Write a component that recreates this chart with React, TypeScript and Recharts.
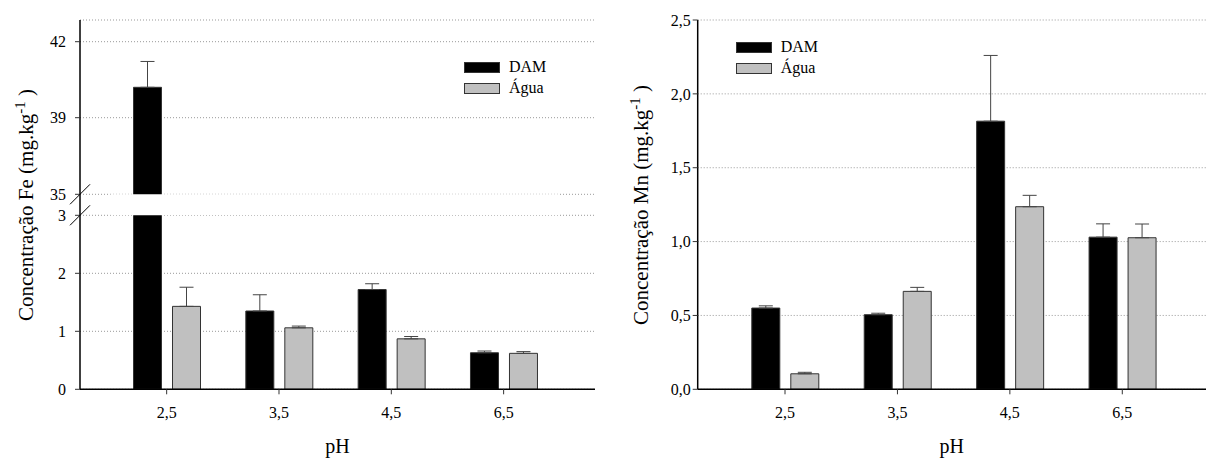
import React from "react"
import { BarChart, Bar, XAxis, YAxis, CartesianGrid, ErrorBar, Legend, ReferenceArea, Label } from "recharts"

const phLabels = ["2,5", "3,5", "4,5", "6,5"]

const feDam = [40.2, 1.35, 1.72, 0.63]
const feDamErr = [1.02, 0.28, 0.1, 0.03]
const feAgua = [1.43, 1.06, 0.87, 0.62]
const feAguaErr = [0.33, 0.03, 0.04, 0.03]

const mnDam = [0.55, 0.505, 1.815, 1.03]
const mnDamErr = [0.015, 0.01, 0.445, 0.09]
const mnAgua = [0.105, 0.663, 1.236, 1.026]
const mnAguaErr = [0.01, 0.027, 0.077, 0.093]

const feTicks = [0, 1, 2, 3, 35, 39, 42]
const feBreak = [3, 35]
const mnTicks = [0, 0.5, 1, 1.5, 2, 2.5]

// broken Fe axis: value -> relative length along the axis
const feAxisKnots: [number, number][] = [
  [0, 0],
  [3, 174],
  [35, 195],
  [39, 271.6],
  [42, 347.6],
  [42.86, 369.3],
]

function brokenScale(knots: [number, number][], dom: number[] = [0, 1], rng: number[] = [0, 1]): any {
  let d = dom.slice()
  let r = rng.slice()
  const toT = (v: number) => {
    for (let i = 1; i < knots.length; i++) {
      if (v <= knots[i][0] || i === knots.length - 1) {
        const [v0, t0] = knots[i - 1]
        const [v1, t1] = knots[i]
        return t0 + ((v - v0) * (t1 - t0)) / (v1 - v0)
      }
    }
    return 0
  }
  const s: any = (v: number) => {
    const t0 = toT(Number(d[0]))
    const t1 = toT(Number(d[1]))
    return r[0] + ((toT(Number(v)) - t0) / (t1 - t0)) * (r[1] - r[0])
  }
  s.domain = (x?: number[]) => {
    if (x === undefined) return d.slice()
    d = x.map(Number)
    return s
  }
  s.range = (x?: number[]) => {
    if (x === undefined) return r.slice()
    r = x.map(Number)
    return s
  }
  s.copy = () => brokenScale(knots, d, r)
  s.ticks = () => feTicks
  s.invert = (y: number) => {
    const t0 = toT(d[0])
    const t1 = toT(d[1])
    const t = t0 + ((y - r[0]) / (r[1] - r[0])) * (t1 - t0)
    for (let i = 1; i < knots.length; i++) {
      if (t <= knots[i][1] || i === knots.length - 1) {
        const [v0, k0] = knots[i - 1]
        const [v1, k1] = knots[i]
        return v0 + ((t - k0) * (v1 - v0)) / (k1 - k0)
      }
    }
    return 0
  }
  return s
}

const feScale = brokenScale(feAxisKnots)

const feData = phLabels.map((ph, i) => ({
  ph,
  dam: feDam[i],
  damErr: [0, feDamErr[i]],
  agua: feAgua[i],
  aguaErr: [0, feAguaErr[i]],
}))

const mnData = phLabels.map((ph, i) => ({
  ph,
  dam: mnDam[i],
  damErr: [0, mnDamErr[i]],
  agua: mnAgua[i],
  aguaErr: [0, mnAguaErr[i]],
}))

const FONT = "'Liberation Serif', 'Times New Roman', serif"

const FeTick = (props: any) => {
  const { x, y, payload } = props
  const axisX = x + 14
  const isBreak = feBreak.includes(payload.value)
  return (
    <g>
      <text x={x} y={y} dy="0.355em" textAnchor="end" fontSize={16} fill="#000" fontFamily={FONT}>
        {payload.value}
      </text>
      {isBreak && <line x1={axisX - 10} y1={y + 10} x2={axisX + 10} y2={y - 10} stroke="#000" strokeWidth={1} />}
    </g>
  )
}

const YTitle = ({ x, y, metal }: { x: number; y: number; metal: string }) => (
  <text x={x} y={y} transform={`rotate(-90 ${x} ${y})`} textAnchor="middle" fontSize={21} fill="#000" fontFamily={FONT}>
    {`Concentração ${metal} (mg.kg`}
    <tspan dy={-8} fontSize={15}>-1</tspan>
    <tspan dy={8}> )</tspan>
  </text>
)

const LegendBox = ({ payload }: any) => (
  <div style={{ fontFamily: FONT }}>
    {(payload || []).map((item: any) => (
      <div key={item.value} style={{ display: "flex", alignItems: "center", height: 20.7 }}>
        <span
          style={{
            display: "inline-block",
            width: 36,
            height: 11,
            background: item.color,
            border: "1px solid #333",
            boxSizing: "border-box",
            marginRight: 9,
          }}
        />
        <span style={{ fontSize: 16, color: "#000", fontFamily: FONT }}>{item.value}</span>
      </div>
    ))}
  </div>
)

const axisLine = { stroke: "#000", strokeWidth: 1.5 }
const tickLine = { stroke: "#333" }
const grid = { stroke: "#999", strokeDasharray: "1 2" }

export default function App() {
  return (
    <div style={{ position: "absolute", left: 0, top: 0, width: 1207, height: 458, background: "#fff", fontFamily: FONT }}>
      <style>{`.recharts-wrapper, .recharts-wrapper text { font-family: ${FONT}; }`}</style>
      <div style={{ position: "absolute", left: 0, top: 0 }}>
        <BarChart width={620} height={458} data={feData} margin={{ top: 20, right: 25, bottom: 0, left: 0 }} barSize={28} barGap={11}>
          <CartesianGrid vertical={false} {...grid} />
          <Bar dataKey="dam" name="DAM" fill="#000" stroke="#333" isAnimationActive={false}>
            <ErrorBar dataKey="damErr" width={7} stroke="#444" strokeWidth={1} />
          </Bar>
          <Bar dataKey="agua" name="Água" fill="#c0c0c0" stroke="#333" isAnimationActive={false}>
            <ErrorBar dataKey="aguaErr" width={7} stroke="#444" strokeWidth={1} />
          </Bar>
          <ReferenceArea y1={feBreak[0]} y2={feBreak[1]} fill="#fff" fillOpacity={1} stroke="none" zIndex={450} />
          <XAxis
            dataKey="ph"
            height={68.7}
            padding={{ left: 30.5, right: 35.2 }}
            tickSize={5}
            tickMargin={12}
            interval={0}
            tick={{ fill: "#000", fontSize: 16, fontFamily: FONT }}
            axisLine={axisLine}
            tickLine={tickLine}
          >
            <Label value="pH" position="insideBottom" offset={5} fontSize={20} fill="#000" fontFamily={FONT} />
          </XAxis>
          <YAxis
            type="number"
            width={80}
            domain={[0, 42.86]}
            scale={feScale}
            ticks={feTicks}
            interval={0}
            tickSize={5}
            tickMargin={9}
            tick={<FeTick />}
            axisLine={axisLine}
            tickLine={tickLine}
            label={() => <YTitle x={33} y={205} metal="Fe" />}
          />
          <Legend
            layout="vertical"
            align="center"
            verticalAlign="middle"
            content={<LegendBox />}
            wrapperStyle={{ left: 464, top: 57, width: "auto", height: "auto" }}
          />
        </BarChart>
      </div>
      <div style={{ position: "absolute", left: 620, top: 0 }}>
        <BarChart width={587} height={458} data={mnData} margin={{ top: 20, right: 1, bottom: 0, left: 0 }} barSize={28} barGap={11}>
          <CartesianGrid vertical={false} {...grid} />
          <Bar dataKey="dam" name="DAM" fill="#000" stroke="#333" isAnimationActive={false}>
            <ErrorBar dataKey="damErr" width={7} stroke="#444" strokeWidth={1} />
          </Bar>
          <Bar dataKey="agua" name="Água" fill="#c0c0c0" stroke="#333" isAnimationActive={false}>
            <ErrorBar dataKey="aguaErr" width={7} stroke="#444" strokeWidth={1} />
          </Bar>
          <XAxis
            dataKey="ph"
            height={68.7}
            padding={{ left: 31.1, right: 27.5 }}
            tickSize={5}
            tickMargin={12}
            interval={0}
            tick={{ fill: "#000", fontSize: 16, fontFamily: FONT }}
            axisLine={axisLine}
            tickLine={tickLine}
          >
            <Label value="pH" position="insideBottom" offset={5} fontSize={20} fill="#000" fontFamily={FONT} />
          </XAxis>
          <YAxis
            type="number"
            width={77.7}
            domain={[0, 2.5]}
            ticks={mnTicks}
            interval={0}
            tickSize={5}
            tickMargin={2}
            tick={{ fill: "#000", fontSize: 16, fontFamily: FONT }}
            tickFormatter={(v: number) => v.toFixed(1).replace(".", ",")}
            axisLine={axisLine}
            tickLine={tickLine}
            label={() => <YTitle x={28} y={205} metal="Mn" />}
          />
          <Legend
            layout="vertical"
            align="center"
            verticalAlign="middle"
            content={<LegendBox />}
            wrapperStyle={{ left: 115.7, top: 37, width: "auto", height: "auto" }}
          />
        </BarChart>
      </div>
    </div>
  )
}
